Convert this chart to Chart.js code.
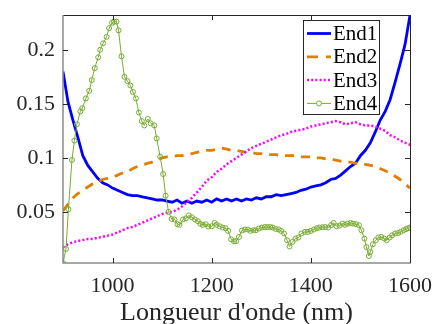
<!DOCTYPE html>
<html>
<head>
<meta charset="utf-8">
<script src="https://cdn.jsdelivr.net/npm/chart.js@4.4.1/dist/chart.umd.min.js"></script>
<style>
  html, body { margin: 0; padding: 0; background: #fff; }
  canvas { display: block; }
</style>
</head>
<body>
<canvas id="myChart" width="434" height="324"></canvas>
<script>
(function () {
  "use strict";

  // wavelength grid (nm) shared by End1..End3
  var wavelengths = [
    900, 910, 920, 930, 940, 950, 960, 970, 980, 990,
    1000, 1010, 1020, 1030, 1040, 1050, 1060, 1070, 1080, 1090,
    1100, 1110, 1120, 1130, 1140, 1150, 1160, 1170, 1180, 1190,
    1200, 1210, 1220, 1230, 1240, 1250, 1260, 1270, 1280, 1290,
    1300, 1310, 1320, 1330, 1340, 1350, 1360, 1370, 1380, 1390,
    1400, 1410, 1420, 1430, 1440, 1450, 1460, 1470, 1480, 1490,
    1500, 1510, 1520, 1530, 1540, 1550, 1560, 1570, 1580, 1590,
    1600
  ];

  var end1 = [
    0.180, 0.152, 0.135, 0.119, 0.102, 0.093, 0.087, 0.081, 0.077, 0.075,
    0.072, 0.070, 0.068, 0.066, 0.065, 0.065, 0.064, 0.063, 0.062, 0.061,
    0.061, 0.060, 0.059, 0.061, 0.058, 0.060, 0.058, 0.060, 0.059, 0.061,
    0.059, 0.062, 0.060, 0.062, 0.060, 0.062, 0.060, 0.062, 0.061, 0.063,
    0.062, 0.064, 0.064, 0.066, 0.065, 0.066, 0.067, 0.068, 0.070, 0.071,
    0.073, 0.074, 0.075, 0.077, 0.080, 0.081, 0.084, 0.088, 0.092, 0.095,
    0.102, 0.107, 0.114, 0.124, 0.135, 0.143, 0.154, 0.170, 0.187, 0.205,
    0.232
  ];

  var end2 = [
    0.051, 0.057, 0.063, 0.067, 0.070, 0.073, 0.076, 0.078, 0.080, 0.081,
    0.082, 0.084, 0.086, 0.087, 0.090, 0.092, 0.093, 0.095, 0.096, 0.098,
    0.100, 0.101, 0.101, 0.102, 0.102, 0.103, 0.104, 0.105, 0.106, 0.107,
    0.107, 0.108, 0.109, 0.108, 0.107, 0.107, 0.106, 0.105, 0.105, 0.104,
    0.104, 0.103, 0.103, 0.103, 0.102, 0.102, 0.102, 0.102, 0.101, 0.101,
    0.101, 0.100, 0.100, 0.099, 0.099, 0.098, 0.097, 0.096, 0.096, 0.095,
    0.095, 0.094, 0.093, 0.092, 0.090, 0.088, 0.086, 0.083, 0.080, 0.076,
    0.072
  ];

  var end3 = [
    0.017, 0.020, 0.022, 0.023, 0.024, 0.025, 0.025, 0.026, 0.027, 0.028,
    0.029, 0.031, 0.033, 0.035, 0.036, 0.038, 0.040, 0.042, 0.044, 0.046,
    0.048, 0.049, 0.050, 0.052, 0.055, 0.059, 0.063, 0.068, 0.073, 0.079,
    0.082, 0.087, 0.090, 0.094, 0.097, 0.100, 0.103, 0.106, 0.109, 0.111,
    0.113, 0.115, 0.117, 0.119, 0.121, 0.122, 0.124, 0.125, 0.126, 0.127,
    0.129, 0.130, 0.131, 0.132, 0.133, 0.134, 0.133, 0.131, 0.132, 0.133,
    0.131, 0.130, 0.130, 0.129, 0.127, 0.125, 0.121, 0.119, 0.116, 0.114,
    0.112
  ];

  // End4 has its own (denser) sampling
  var end4Wavelengths = [
    900, 906, 911, 918, 923, 928, 935, 939, 946, 953,
    958, 964, 971, 975, 981, 988, 993, 999, 1003, 1008,
    1012, 1018, 1024, 1030, 1036, 1041, 1047, 1053, 1059, 1064,
    1071, 1077, 1084, 1089, 1096, 1102, 1107, 1113, 1119, 1125,
    1131, 1135, 1142, 1148, 1154, 1160, 1166, 1172, 1177, 1182,
    1188, 1193, 1200, 1206, 1210, 1216, 1222, 1228, 1233, 1239,
    1245, 1249, 1255, 1261, 1267, 1273, 1278, 1284, 1289, 1295,
    1301, 1307, 1312, 1318, 1323, 1329, 1335, 1340, 1346, 1352,
    1357, 1363, 1369, 1375, 1381, 1388, 1394, 1400, 1406, 1412,
    1417, 1423, 1429, 1435, 1441, 1446, 1452, 1458, 1464, 1469,
    1474, 1480, 1485, 1491, 1497, 1502, 1508, 1512, 1517, 1520,
    1525, 1531, 1536, 1542, 1548, 1553, 1559, 1564, 1570, 1576,
    1581, 1587, 1592, 1596, 1600
  ];

  var end4 = [
    0.0027, 0.0157, 0.0525, 0.098, 0.116, 0.131, 0.143, 0.146, 0.155, 0.162,
    0.172, 0.183, 0.193, 0.200, 0.206, 0.212, 0.220, 0.225, 0.226, 0.226,
    0.218, 0.194, 0.175, 0.171, 0.167, 0.161, 0.155, 0.142, 0.134, 0.130,
    0.136, 0.132, 0.130, 0.118, 0.101, 0.085, 0.065, 0.050, 0.0435, 0.043,
    0.0386, 0.038, 0.043, 0.044, 0.0467, 0.045, 0.043, 0.0414, 0.039, 0.038,
    0.0386, 0.0365, 0.0367, 0.0398, 0.038, 0.0367, 0.0355, 0.0349, 0.0324, 0.0247,
    0.0228, 0.0228, 0.0268, 0.0328, 0.0337, 0.0337, 0.0324, 0.033, 0.033, 0.0346,
    0.0355, 0.036, 0.036, 0.036, 0.0355, 0.0342, 0.0337, 0.0324, 0.030, 0.0238,
    0.018, 0.0222, 0.0253, 0.0263, 0.030, 0.0315, 0.0315, 0.0324, 0.0337, 0.0349,
    0.0355, 0.0358, 0.036, 0.0355, 0.0377, 0.0398, 0.0367, 0.0374, 0.0392, 0.038,
    0.0392, 0.0398, 0.0392, 0.0386, 0.0377, 0.033, 0.0253, 0.0175, 0.0092, 0.0129,
    0.020, 0.0238, 0.0263, 0.0268, 0.0253, 0.0238, 0.0263, 0.0284, 0.030, 0.0305,
    0.0315, 0.033, 0.034, 0.0349, 0.0355
  ];

  var seriesNames = ["End1", "End2", "End3", "End4"];
  var xTicks = [1000, 1200, 1400, 1600];
  var yTicks = [0.05, 0.1, 0.15, 0.2];
  var xLimits = [900, 1600];
  var yLimits = [0.0027, 0.2322];

  function pairs(xs, ys) {
    return ys.map(function (v, i) {
      return { x: xs[i], y: v };
    });
  }

  var serif = "'Liberation Serif', 'Times New Roman', serif";

  /* MATLAB style box with inward ticks */
  var framePlugin = {
    id: "frame",
    afterDatasetsDraw: function (chart) {
      var ctx = chart.ctx;
      var a = chart.chartArea;
      var xs = chart.scales.x;
      var ys = chart.scales.y;
      var tl = 5;
      ctx.save();
      ctx.lineWidth = 1;
      // top and right
      ctx.strokeStyle = "#262626";
      ctx.beginPath();
      ctx.moveTo(a.left, a.top + 0.5);
      ctx.lineTo(a.right + 0.5, a.top + 0.5);
      ctx.lineTo(a.right + 0.5, a.bottom);
      ctx.stroke();
      // left and bottom
      ctx.strokeStyle = "#8a8a8a";
      ctx.lineWidth = 1.5;
      ctx.beginPath();
      ctx.moveTo(a.left, a.top);
      ctx.lineTo(a.left, a.bottom);
      ctx.lineTo(a.right + 1, a.bottom);
      ctx.stroke();
      ctx.lineWidth = 1;
      ctx.strokeStyle = "#262626";
      ctx.beginPath();
      xTicks.forEach(function (v) {
        var px = Math.round(xs.getPixelForValue(v)) + 0.5;
        ctx.moveTo(px, a.bottom);
        ctx.lineTo(px, a.bottom - tl);
        ctx.moveTo(px, a.top);
        ctx.lineTo(px, a.top + tl);
      });
      yTicks.forEach(function (v) {
        var py = Math.round(ys.getPixelForValue(v)) + 0.5;
        ctx.moveTo(a.left, py);
        ctx.lineTo(a.left + tl, py);
        ctx.moveTo(a.right, py);
        ctx.lineTo(a.right - tl, py);
      });
      ctx.stroke();
      ctx.restore();
    }
  };

  /* legend box in the top right corner */
  var legendPlugin = {
    id: "boxLegend",
    afterDraw: function (chart) {
      var ctx = chart.ctx;
      var a = chart.chartArea;
      var x0 = a.right - 107, y0 = a.top + 5, w = 76, h = 94;
      ctx.save();
      ctx.fillStyle = "#fff";
      ctx.fillRect(x0, y0, w, h);
      ctx.strokeStyle = "#262626";
      ctx.lineWidth = 1;
      ctx.strokeRect(x0 + 0.5, y0 + 0.5, w, h);
      chart.data.datasets.forEach(function (ds, i) {
        var y = y0 + 13.5 + i * 23.3;
        var lx0 = x0 + 4, lx1 = x0 + 28;
        ctx.strokeStyle = ds.borderColor;
        ctx.lineWidth = ds.borderWidth;
        ctx.setLineDash(ds.legendDash || []);
        ctx.beginPath();
        ctx.moveTo(lx0, y);
        ctx.lineTo(lx1, y);
        ctx.stroke();
        ctx.setLineDash([]);
        if (ds.pointRadius > 0) {
          ctx.lineWidth = 1;
          ctx.beginPath();
          ctx.arc((lx0 + lx1) / 2, y, ds.pointRadius, 0, Math.PI * 2);
          ctx.fillStyle = "#fff";
          ctx.fill();
          ctx.stroke();
        }
        ctx.fillStyle = "#000";
        ctx.font = "21px " + serif;
        ctx.textBaseline = "middle";
        ctx.textAlign = "left";
        ctx.fillText(seriesNames[i], x0 + 30, y + 1);
      });
      ctx.restore();
    }
  };

  if ($("#myChart")) {
    var ctx = document.getElementById("myChart").getContext("2d");
    var chart = new Chart(ctx, {
      type: "line",
      data: {
        datasets: [
          {
            label: seriesNames[0],
            data: pairs(wavelengths, end1),
            borderColor: "#0000ff",
            borderWidth: 2.8,
            pointRadius: 0,
            order: 3
          },
          {
            label: seriesNames[1],
            data: pairs(wavelengths, end2),
            borderColor: "#df7f00",
            borderWidth: 2.8,
            borderDash: [9, 7],
            legendDash: [11, 8],
            pointRadius: 0,
            order: 2
          },
          {
            label: seriesNames[2],
            data: pairs(wavelengths, end3),
            borderColor: "#ff00ff",
            borderWidth: 2.5,
            borderDash: [2, 2.2],
            legendDash: [2, 2.2],
            pointRadius: 0,
            order: 1
          },
          {
            label: seriesNames[3],
            data: pairs(end4Wavelengths, end4),
            borderColor: "#77ac30",
            borderWidth: 1,
            pointRadius: 2.5,
            pointBorderWidth: 1,
            pointBorderColor: "#77ac30",
            pointBackgroundColor: "rgba(255,255,255,0)",
            order: 0
          }
        ]
      },
      options: {
        responsive: false,
        animation: false,
        layout: { padding: { top: 15, right: 24, left: 0, bottom: 0 } },
        plugins: {
          legend: { display: false },
          tooltip: { enabled: false }
        },
        scales: {
          x: {
            type: "linear",
            min: xLimits[0],
            max: xLimits[1],
            grid: { display: false, drawTicks: false },
            border: { display: false },
            afterBuildTicks: function (scale) {
              scale.ticks = xTicks.map(function (v) { return { value: v }; });
            },
            afterFit: function (scale) {
              scale.height = 61;
              scale.paddingLeft = 0;
              scale.paddingRight = 0;
            },
            ticks: {
              color: "#262626",
              padding: 10,
              maxRotation: 0,
              font: { family: serif, size: 22 },
              callback: function (v) { return String(v); }
            },
            title: {
              display: true,
              text: "Longueur d'onde (nm)",
              color: "#262626",
              font: { family: serif, size: 26, lineHeight: 1 },
              padding: { top: 0, bottom: -2 }
            }
          },
          y: {
            type: "linear",
            min: yLimits[0],
            max: yLimits[1],
            grid: { display: false, drawTicks: false },
            border: { display: false },
            afterBuildTicks: function (scale) {
              scale.ticks = yTicks.map(function (v) { return { value: v }; });
            },
            afterFit: function (scale) {
              scale.width = 63;
              scale.paddingTop = 0;
              scale.paddingBottom = 0;
            },
            ticks: {
              color: "#262626",
              padding: 8,
              font: { family: serif, size: 22 },
              callback: function (v) { return String(v); }
            }
          }
        }
      },
      plugins: [framePlugin, legendPlugin]
    });
  }

  function $(sel) { return document.querySelector(sel); }
})();
</script>
</body>
</html>
